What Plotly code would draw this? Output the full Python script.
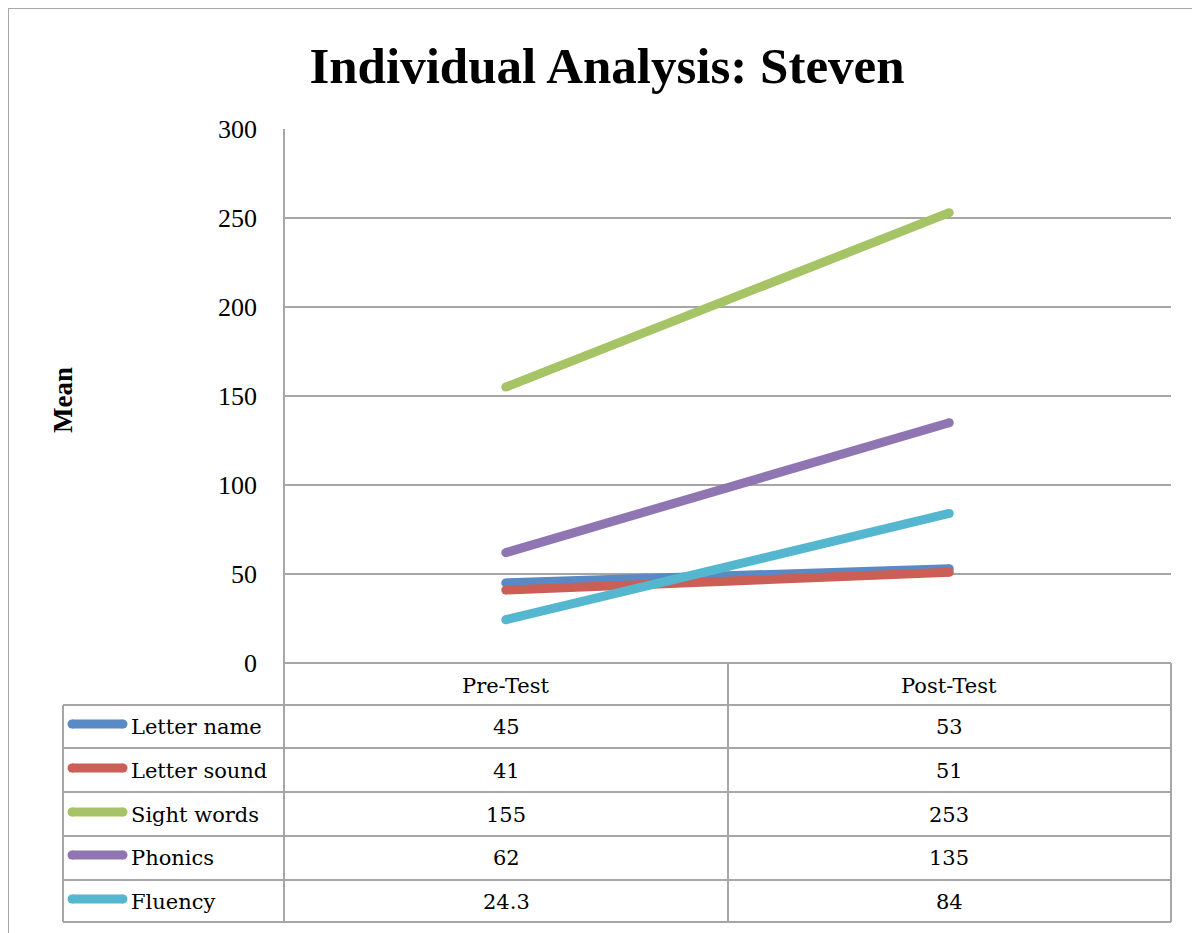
import plotly.graph_objects as go

categories = ["Pre-Test", "Post-Test"]
series_names = ["Letter name", "Letter sound", "Sight words", "Phonics", "Fluency"]
letter_name = [45, 53]
letter_sound = [41, 51]
sight_words = [155, 253]
phonics = [62, 135]
fluency = [24.3, 84]
table_text = [["45", "53"], ["41", "51"], ["155", "253"], ["62", "135"], ["24.3", "84"]]
y_ticks = [0, 50, 100, 150, 200, 250, 300]

series_values = [letter_name, letter_sound, sight_words, phonics, fluency]
colors = ["#5A8AC6", "#CB5F56", "#A6C465", "#8F76B3", "#55B7CF"]

OFF = 8  # page body margin
W, H = 1200 - OFF, 933 - OFF
# target screen pixel positions of the plot area
SL, SR, ST, SB = 284, 1171, 129, 663
FONT = "Liberation Serif"
TFONT = "DejaVu Serif"
GRID = "#A6A6A6"


def px(x):
    return (x - SL) / (SR - SL)


def py(y):
    return (SB - y) / (SB - ST)


fig = go.Figure()
for name, vals, col in zip(series_names, series_values, colors):
    fig.add_trace(go.Scatter(
        x=categories, y=vals, mode="lines+markers", name=name,
        line=dict(color=col, width=9),
        marker=dict(color=col, size=9, line=dict(width=0)),
        showlegend=False, hoverinfo="skip",
    ))

shapes = []
annotations = []

# outer border
shapes.append(dict(type="rect", xref="paper", yref="paper",
                   x0=px(8), x1=px(1215), y0=py(8), y1=py(945),
                   line=dict(color=GRID, width=2), layer="below"))

# table grid
row_bounds = [663, 705, 748, 792, 836, 880, 922]
for i, yb in enumerate(row_bounds):
    x0 = 63 if i >= 1 else 284
    shapes.append(dict(type="line", xref="paper", yref="paper",
                       x0=px(x0), x1=px(1171), y0=py(yb), y1=py(yb),
                       line=dict(color=GRID, width=2)))
shapes.append(dict(type="line", xref="paper", yref="paper",
                   x0=px(63), x1=px(63), y0=py(705), y1=py(922),
                   line=dict(color=GRID, width=2)))
shapes.append(dict(type="line", xref="paper", yref="paper",
                   x0=px(284), x1=px(284), y0=py(129), y1=py(922),
                   line=dict(color=GRID, width=2)))
for xv in [728, 1171]:
    shapes.append(dict(type="line", xref="paper", yref="paper",
                       x0=px(xv), x1=px(xv), y0=py(663), y1=py(922),
                       line=dict(color=GRID, width=2)))

col_centers = [506, 949]
for c, cx in zip(categories, col_centers):
    annotations.append(dict(text=c, xref="paper", yref="paper", x=px(cx), y=py(686),
                            showarrow=False, xanchor="center", yanchor="middle",
                            font=dict(family=TFONT, size=21, color="black")))

row_centers = [727, 771, 815, 858, 902]
for name, col, rc, row in zip(series_names, colors, row_centers, table_text):
    sy = rc - 3
    shapes.append(dict(type="line", xref="paper", yref="paper",
                       x0=px(72), x1=px(123), y0=py(sy), y1=py(sy),
                       line=dict(color=col, width=9)))
    for cxp in (72, 123):
        shapes.append(dict(type="circle", xref="paper", yref="paper",
                           x0=px(cxp - 4.5), x1=px(cxp + 4.5),
                           y0=py(sy - 4.5), y1=py(sy + 4.5),
                           fillcolor=col, line=dict(width=0)))
    annotations.append(dict(text=name, xref="paper", yref="paper", x=px(129), y=py(rc),
                            showarrow=False, xanchor="left", yanchor="middle",
                            font=dict(family=TFONT, size=21, color="black")))
    for v, cx in zip(row, col_centers):
        annotations.append(dict(text=v, xref="paper", yref="paper", x=px(cx), y=py(rc),
                                showarrow=False, xanchor="center", yanchor="middle",
                                font=dict(family=TFONT, size=21, color="black")))

annotations.append(dict(text="<b>Mean</b>", xref="paper", yref="paper", x=px(63), y=py(400),
                        showarrow=False, xanchor="center", yanchor="middle", textangle=-90,
                        font=dict(family=FONT, size=27, color="black")))

fig.update_layout(
    width=W, height=H,
    margin=dict(l=SL - OFF, r=W - (SR - OFF), t=ST - OFF, b=H - (SB - OFF)),
    paper_bgcolor="white", plot_bgcolor="white",
    title=dict(text="<b>Individual Analysis: Steven</b>", x=px(607), xref="paper",
               xanchor="center", y=1 - (65 - OFF) / H, yanchor="middle",
               font=dict(family=FONT, size=51, color="black")),
    xaxis=dict(type="category", range=[-0.5, 1.5], showticklabels=False,
               showgrid=False, zeroline=False, showline=False, fixedrange=True),
    yaxis=dict(range=[0, 300], tickvals=y_ticks, showgrid=True, gridcolor=GRID, gridwidth=2,
               zeroline=False, showline=False, ticks="", ticklabelstandoff=26,
               tickfont=dict(family=FONT, size=26, color="black"), fixedrange=True),
    shapes=shapes, annotations=annotations,
)

fig.write_html("out.html")
